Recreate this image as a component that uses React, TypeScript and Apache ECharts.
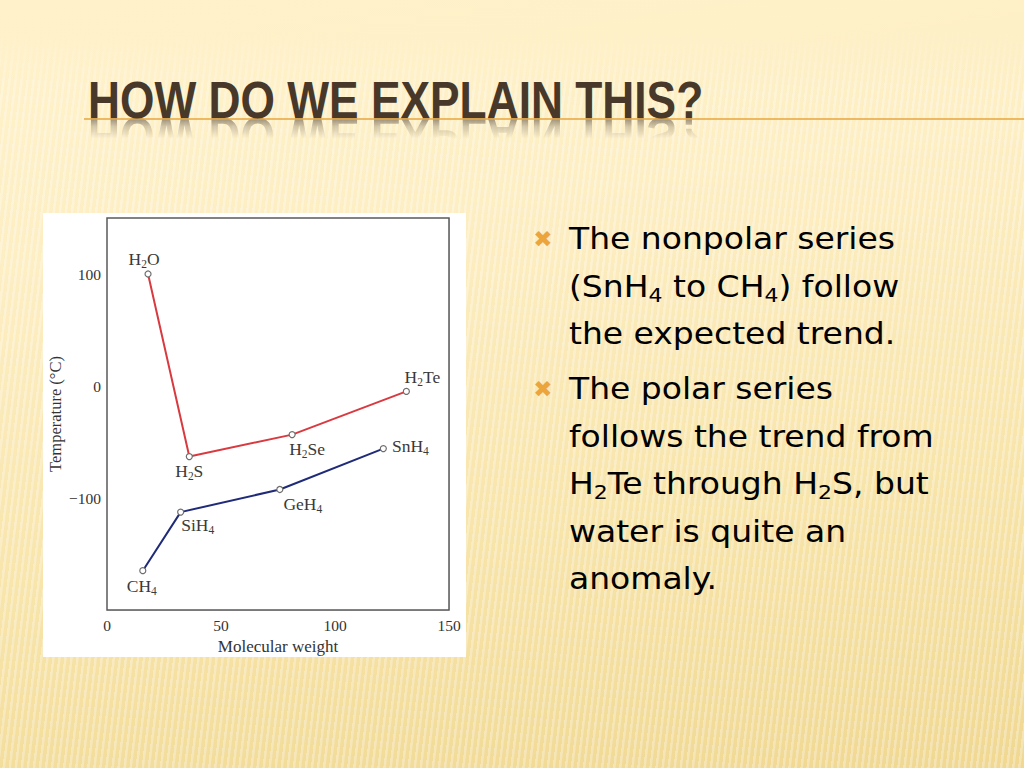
import React, { useEffect, useRef } from "react";
import * as echarts from "echarts";

// ---- data ----
const polarNames = ["H2O", "H2S", "H2Se", "H2Te"];
const polarMW = [18.0, 36.1, 81.2, 131.3];
const polarTemp = [100, -63, -43.4, -4.8];

const nonpolarNames = ["CH4", "SiH4", "GeH4", "SnH4"];
const nonpolarMW = [15.7, 32.3, 75.8, 121.2];
const nonpolarTemp = [-164.9, -112.6, -92.4, -55.9];

const xTickLabels = [0, 50, 100, 150];
const yTickLabels = [100, 0, -100];

// label placement (pixels, relative to each point)
const polarLabelOffsets = [[-4, -15], [0, 14], [15, 14], [16, -14]];
const nonpolarLabelOffsets = [[-1, 15], [17, 13], [23, 15], [27, -3]];

const titleText = "HOW DO WE EXPLAIN THIS?";
const bullet1 = [["The nonpolar series"], ["(SnH", "4", " to CH", "4", ") follow"], ["the expected trend."]];
const bullet2 = [
  ["The polar series"],
  ["follows the trend from"],
  ["H", "2", "Te through H", "2", "S, but"],
  ["water is quite an"],
  ["anomaly."],
];

function chemRich(name: string): string {
  const parts = name.match(/\d+|\D+/g) || [];
  return parts.map((p) => (/^\d+$/.test(p) ? `{s|${p}}` : `{n|${p}}`)).join("");
}

function lineRich(lines: string[][]): string {
  return lines
    .map((segs) => segs.map((s, i) => (i % 2 === 1 ? `{s|${s}}` : `{n|${s}}`)).join(""))
    .join("\n");
}

const serif = '"Liberation Serif", "DejaVu Serif", serif';
const sans = '"DejaVu Sans", "Open Sans", sans-serif';
const titleFont = '"Liberation Sans", Arial, sans-serif';
const TITLE_SCALE_X = 0.852;
const BULLET_SCALE_X = 1.1;

export default function App() {
  const ref = useRef<HTMLDivElement>(null);
  useEffect(() => {
    document.body.style.margin = "0";
    const chart = echarts.init(ref.current!, null, { renderer: "svg", width: 1024, height: 768 });

    const labelRich = {
      n: { fontFamily: serif, fontSize: 17.5, color: "#3a3a3a", lineHeight: 20 },
      s: { fontFamily: serif, fontSize: 11.5, color: "#3a3a3a", lineHeight: 11, padding: [9, 0, 0, 0], verticalAlign: "top" },
    };

    const mkData = (xs: number[], ys: number[], names: string[], offs: number[][]) =>
      xs.map((x, i) => ({
        value: [x, ys[i]],
        name: names[i],
        label: { offset: offs[i] },
      }));

    const bulletRich = {
      n: { fontFamily: sans, fontSize: 30, color: "#3d3225", lineHeight: 47.5 },
      s: { fontFamily: sans, fontSize: 20, color: "#3d3225", lineHeight: 20, padding: [22, 0, 0, 0], verticalAlign: "top" },
    };

    const xMark = (y: number) => ({
      type: "text",
      x: 543,
      y,
      style: {
        text: "\u2716",
        textAlign: "center",
        textVerticalAlign: "middle",
        fontFamily: '"DejaVu Sans", sans-serif',
        fontSize: 23,
        fill: "#eca53a",
      },
    });

    const option: any = {
      animation: false,
      backgroundColor: "transparent",
      grid: {
        left: 107,
        right: 1024 - 449,
        top: 218,
        bottom: 768 - 610,
        show: true,
        backgroundColor: "#ffffff",
        borderColor: "#5a5a5a",
        borderWidth: 1.5,
        z: 1,
      },
      xAxis: {
        type: "value",
        min: 0,
        max: 150,
        interval: 25,
        name: "Molecular weight",
        nameLocation: "middle",
        nameGap: 25,
        nameTextStyle: { fontFamily: serif, fontSize: 17, color: "#333" },
        axisLine: { show: false },
        axisTick: { show: false },
        splitLine: { show: true, lineStyle: { color: "#dadada", width: 1 } },
        axisLabel: {
          fontFamily: serif,
          fontSize: 15.5,
          color: "#333",
          margin: 7,
          formatter: (v: number) => (xTickLabels.includes(v) ? String(v) : ""),
        },
      },
      yAxis: {
        type: "value",
        min: -200,
        max: 150,
        interval: 50,
        name: "Temperature (°C)",
        nameLocation: "middle",
        nameGap: 43,
        nameRotate: 90,
        nameTextStyle: { fontFamily: serif, fontSize: 16.5, color: "#333" },
        axisLine: { show: false },
        axisTick: { show: false },
        splitLine: { show: true, lineStyle: { color: "#dadada", width: 1 } },
        axisLabel: {
          fontFamily: serif,
          fontSize: 15.5,
          color: "#333",
          margin: 6,
          formatter: (v: number) => (yTickLabels.includes(v) ? String(v).replace("-", "\u2212") : ""),
        },
      },
      series: [
        {
          name: "Polar",
          type: "line",
          data: mkData(polarMW, polarTemp, polarNames, polarLabelOffsets),
          lineStyle: { color: "#d83a40", width: 2 },
          symbol: "circle",
          symbolSize: 6,
          itemStyle: { color: "#ffffff", borderColor: "#6e6e6e", borderWidth: 1.2 },
          label: {
            show: true,
            position: "inside",
            formatter: (p: any) => chemRich(p.name),
            rich: labelRich,
          },
          z: 3,
        },
        {
          name: "Nonpolar",
          type: "line",
          data: mkData(nonpolarMW, nonpolarTemp, nonpolarNames, nonpolarLabelOffsets),
          lineStyle: { color: "#1f2b78", width: 2 },
          symbol: "circle",
          symbolSize: 6,
          itemStyle: { color: "#ffffff", borderColor: "#6e6e6e", borderWidth: 1.2 },
          label: {
            show: true,
            position: "inside",
            formatter: (p: any) => chemRich(p.name),
            rich: labelRich,
          },
          z: 3,
        },
      ],
      graphic: [
        {
          type: "rect",
          z: -10,
          shape: { x: 43, y: 213, width: 423, height: 444 },
          style: { fill: "#ffffff" },
        },
        {
          type: "line",
          z: -5,
          shape: { x1: 84, y1: 119, x2: 1024, y2: 119 },
          style: { stroke: "#e7a63c", lineWidth: 1.5 },
        },
        {
          type: "text",
          z: 5,
          x: 88,
          y: 100,
          scaleX: TITLE_SCALE_X,
          style: {
            text: titleText,
            textVerticalAlign: "middle",
            fontFamily: titleFont,
            fontWeight: "bold",
            fontSize: 52,
            fill: "#47382a",
          },
        },
        xMark(239),
        xMark(389),
        {
          type: "text",
          x: 569,
          y: 215,
          scaleX: BULLET_SCALE_X,
          style: {
            text: lineRich(bullet1),
            rich: bulletRich,
            textVerticalAlign: "top",
          },
        },
        {
          type: "text",
          x: 569,
          y: 365,
          scaleX: BULLET_SCALE_X,
          style: {
            text: lineRich(bullet2),
            rich: bulletRich,
            textVerticalAlign: "top",
          },
        },
      ],
    };
    chart.setOption(option);
    return () => chart.dispose();
  }, []);

  const mask = "linear-gradient(180deg, rgba(0,0,0,0) 0%, rgba(0,0,0,0) 45%, rgba(0,0,0,0.35) 68%, rgba(0,0,0,0.9) 86%)";

  return (
    <div
      style={{
        position: "absolute",
        left: 0,
        top: 0,
        width: 1024,
        height: 768,
        overflow: "hidden",
        background:
          "linear-gradient(172deg, #fff2cb 0%, #fdeec3 30%, #f8e5ab 65%, #f0d892 100%)",
      }}
    >
      <div
        style={{
          position: "absolute",
          inset: 0,
          background:
            "repeating-linear-gradient(97deg, rgba(255,255,255,0.3) 0px, rgba(255,255,255,0.3) 2px, rgba(255,255,255,0) 3px, rgba(255,255,255,0) 6px)",
          WebkitMaskImage: "linear-gradient(180deg, transparent 0px, transparent 30px, black 90px)",
          maskImage: "linear-gradient(180deg, transparent 0px, transparent 30px, black 90px)",
        }}
      />
      <div
        aria-hidden="true"
        style={{
          position: "absolute",
          left: 88,
          top: 110,
          height: 52,
          lineHeight: "52px",
          whiteSpace: "nowrap",
          fontFamily: titleFont,
          fontWeight: "bold",
          fontSize: 52,
          color: "rgba(95,82,66,0.75)",
          transformOrigin: "0 50%",
          transform: `scale(${TITLE_SCALE_X}, -1)`,
          WebkitMaskImage: mask,
          maskImage: mask,
        }}
      >
        {titleText}
      </div>
      <div ref={ref} style={{ position: "absolute", left: 0, top: 0, width: 1024, height: 768 }} />
    </div>
  );
}
